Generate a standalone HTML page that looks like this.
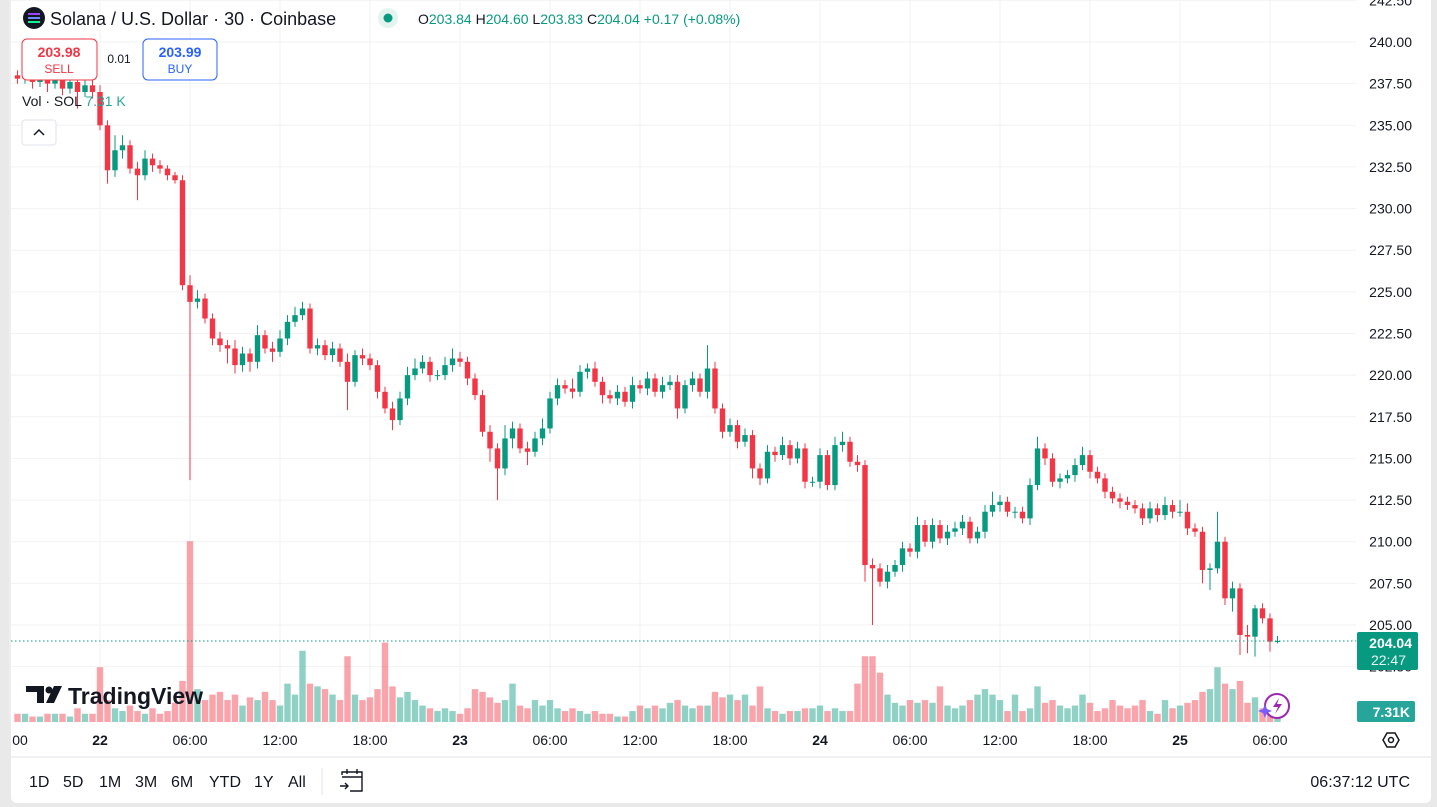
<!DOCTYPE html>
<html><head><meta charset="utf-8"><style>
html,body{margin:0;padding:0;background:#e9e9ea;}
body{width:1437px;height:807px;overflow:hidden;position:relative;font-family:"Liberation Sans",sans-serif;}
#panel{position:absolute;left:11px;top:0;width:1420px;height:803px;background:#fff;border-radius:0 0 6px 6px;}
svg{position:absolute;left:0;top:0;}
.t{font-family:"Liberation Sans",sans-serif;}
</style></head><body>
<div id="panel"></div>
<svg id="chart" width="1437" height="807"></svg>
<script>
const closes=[237.8,238.0,237.6,238.1,237.5,237.9,237.2,237.6,237.0,237.4,237.0,
235.0,232.3,233.5,233.8,232.4,232.0,233.0,232.6,232.4,232.0,231.7,225.4,224.4,224.6,223.4,222.2,221.8,221.6,
220.6,221.3,220.8,222.4,221.6,221.4,222.2,223.2,223.6,224.0,221.6,221.8,221.2,221.6,220.8,219.6,221.2,221.0,220.6,219.0,
218.0,217.3,218.6,220.0,220.4,220.8,220.0,220.0,220.6,221.0,220.8,219.8,218.8,216.6,215.6,214.4,216.2,216.8,215.6,215.4,
216.2,216.8,218.6,219.4,219.2,219.0,220.2,220.4,219.6,218.8,218.6,219.0,218.4,219.4,219.2,219.8,219.0,219.4,219.6,218.0,
219.4,219.8,219.0,220.4,218.0,216.6,217.0,216.0,216.4,214.4,213.8,215.4,215.2,215.8,215.0,215.6,213.6,213.6,215.2,213.4,
215.8,216.0,214.8,214.6,208.6,208.4,207.6,208.2,208.6,209.6,209.4,211.0,210.0,211.0,210.2,210.6,210.8,211.2,210.2,210.6,
211.8,212.2,212.4,211.8,211.8,211.4,213.4,215.6,215.0,213.6,213.8,214.0,214.6,215.2,214.2,213.8,213.0,212.6,212.4,212.2,
212.0,211.4,212.0,211.6,212.2,211.8,211.8,210.8,210.6,208.3,208.4,210.0,206.6,207.2,204.4,204.3,206.0,205.4,204.0,204.04];
const wickUp=[0.3,0.2,0.4,0.3,0.2,0.3,0.4,0.2,0.3,0.3,0.4,
0.4,0.3,0.9,0.6,0.3,0.4,0.5,0.3,0.3,0.2,0.2,0.3,0.6,0.5,0.3,0.3,0.4,0.3,
0.5,0.4,0.3,0.6,0.3,0.4,0.5,0.4,0.5,0.4,0.3,0.4,0.3,0.4,0.3,0.5,0.3,0.4,0.3,0.3,
0.3,0.4,0.4,0.5,0.6,0.4,0.3,0.3,0.5,0.6,0.4,0.3,0.3,0.3,0.4,0.3,0.8,0.4,0.3,0.4,
0.4,0.6,0.4,0.4,0.3,0.6,0.4,0.3,0.4,0.3,0.3,0.4,0.3,0.5,0.3,0.4,0.3,0.5,0.4,0.4,
0.3,0.4,0.3,1.4,0.4,0.3,0.4,0.3,0.4,0.3,0.3,0.4,0.3,0.5,0.3,0.4,0.3,0.3,0.4,0.3,
0.5,0.6,0.3,0.4,0.3,0.4,0.3,0.4,0.3,0.4,0.3,0.5,0.3,0.4,0.3,0.4,0.4,0.4,0.3,0.3,
0.4,0.8,0.4,0.3,0.3,0.3,0.4,0.7,0.3,0.3,0.3,0.3,0.4,0.5,0.3,0.3,0.3,0.3,0.3,0.3,
0.3,0.3,0.4,0.3,0.5,0.3,0.7,0.5,0.3,0.3,0.3,1.8,0.3,0.4,0.3,0.6,0.2,0.3,0.3,0.3];
const wickDn=[0.3,0.3,0.4,0.3,0.5,0.3,0.4,0.3,1.0,0.3,0.4,
0.3,0.8,0.4,0.5,0.3,1.5,0.3,0.4,0.3,0.3,0.2,0.3,10.7,0.4,0.3,0.4,0.4,0.9,
0.5,0.4,0.6,0.4,0.3,0.6,0.3,0.4,0.3,0.3,0.3,0.4,0.3,0.4,0.3,1.7,0.3,0.4,0.3,0.4,
0.3,0.6,0.3,0.4,0.3,0.3,0.4,0.3,0.3,0.4,0.3,0.4,0.3,0.3,0.8,1.9,0.4,0.6,0.3,0.8,
0.3,0.4,0.3,0.4,0.3,0.4,0.3,0.4,0.3,0.5,0.3,0.4,0.3,0.4,0.3,0.4,0.3,0.4,0.3,0.6,
0.3,0.4,0.3,0.4,0.3,0.4,0.3,0.4,0.3,0.6,0.4,0.3,0.4,0.3,0.4,0.3,0.4,0.3,0.4,0.3,
0.3,0.4,0.3,0.4,1.0,3.4,0.3,0.4,0.3,0.4,0.3,0.4,0.3,0.4,0.3,0.4,0.3,0.4,0.3,0.3,
0.4,0.3,0.4,0.3,0.4,0.3,0.4,0.3,0.4,0.3,0.4,0.3,0.4,0.3,0.4,0.3,0.4,0.3,0.4,0.3,
0.3,0.4,0.3,0.4,0.3,0.4,0.3,0.4,0.3,0.8,1.2,0.3,0.4,0.8,1.2,1.0,1.2,0.3,0.6,0.1];
const volumes=[3,3,2,2,3,3,3,2,5,3,3,
20,8,5,4,6,4,3,5,3,4,7,15,66,12,8,10,11,8,
10,6,9,8,11,8,6,14,10,26,14,13,12,10,8,24,10,8,9,12,
29,13,9,11,8,6,5,4,5,4,3,5,12,11,9,7,8,14,6,5,
8,6,8,5,4,5,4,3,4,3,3,2,2,4,6,5,6,5,7,8,
6,5,6,6,11,9,10,8,10,6,13,5,4,3,4,4,5,5,6,4,
5,4,4,14,24,24,18,10,7,6,8,7,8,7,13,6,5,6,8,10,
12,10,8,4,10,4,5,13,7,8,6,5,6,10,7,4,5,8,6,5,
6,8,4,3,8,5,6,7,8,11,12,20,14,12,15,7,9,5,3,1.2];
const priceTicks=[242.5,240,237.5,235,232.5,230,227.5,225,222.5,220,217.5,215,212.5,210,207.5,205,202.5];
const timeTicks=[{i:-1,l:"00"},{i:11,l:"22",b:1},{i:23,l:"06:00"},{i:35,l:"12:00"},{i:47,l:"18:00"},{i:59,l:"23",b:1},{i:71,l:"06:00"},{i:83,l:"12:00"},{i:95,l:"18:00"},{i:107,l:"24",b:1},{i:119,l:"06:00"},{i:131,l:"12:00"},{i:143,l:"18:00"},{i:155,l:"25",b:1},{i:167,l:"06:00"}];
const lastPrice=204.04;

const NS="http://www.w3.org/2000/svg";
const svg=document.getElementById('chart');
const yP=p=>42+(240-p)*16.657;
const xI=i=>17.5+7.5*i;
const volBase=722, volScale=2.74;
function mk(tag,attrs,parent){const e=document.createElementNS(NS,tag);for(const k in attrs)e.setAttribute(k,attrs[k]);(parent||svg).appendChild(e);return e;}
const grid=mk('g',{});


priceTicks.forEach(p=>{mk('line',{x1:11,x2:1356,y1:yP(p),y2:yP(p),stroke:'#f2f2f2','stroke-width':1},grid);});
timeTicks.forEach(t=>{const x=xI(t.i);mk('line',{x1:x,x2:x,y1:0,y2:722,stroke:'#f2f2f2'},grid);});
const vg=mk('g',{});


closes.forEach((c,i)=>{const o=i?closes[i-1]:c+0.2;const up=c>=o;const h=volumes[i]*volScale;
 const r=mk('rect',{x:xI(i)-3.2,y:volBase-h,width:6.4,height:h,fill:up?'rgba(8,153,129,0.45)':'rgba(242,54,69,0.45)'},vg);
 
 });
const cg=mk('g',{});


closes.forEach((c,i)=>{const o=i?closes[i-1]:c+0.2;const up=c>=o;const col=up?'#089981':'#f23645';
 const hi=Math.max(o,c)+wickUp[i],lo=Math.min(o,c)-wickDn[i];const x=xI(i);
 const g=mk('g',{},cg);
 
 
 mk('line',{x1:x,x2:x,y1:yP(hi),y2:yP(lo),stroke:col,'stroke-width':1},g);
 const y1=yP(Math.max(o,c)),y2=yP(Math.min(o,c));
 mk('rect',{x:x-2.7,y:y1,width:5.4,height:Math.max(1,y2-y1),fill:col},g);});
const ly=yP(lastPrice);
const pl=mk('line',{x1:11,x2:1356,y1:ly,y2:ly,stroke:'#089981','stroke-dasharray':'1.5 2.5'});


const pa=mk('g',{});


priceTicks.forEach(p=>{const t=mk('text',{x:1412,y:yP(p)+5,'text-anchor':'end','font-size':'14',fill:'#131722',class:'t'},pa);t.textContent=p.toFixed(2);
 
 });
const tg=mk('g',{});


timeTicks.forEach(tk=>{const t=mk('text',{x:xI(tk.i),y:745,'text-anchor':'middle','font-size':'14','font-weight':tk.b?'bold':'normal',fill:'#131722',class:'t'},tg);t.textContent=tk.l;
 if(tk.i<0){t.setAttribute('x',20);}
 
 });
</script>
<svg width="1437" height="807" style="pointer-events:none">
 <line x1="11" y1="757" x2="1431" y2="757" stroke="#e0e3eb"/>
 <rect x="1357" y="632" width="61" height="38" rx="2" fill="#089981"/>
 <text x="1412" y="648" text-anchor="end" font-size="14" font-weight="bold" fill="#fff" class="t">204.04</text>
 <text x="1406" y="665" text-anchor="end" font-size="14" fill="#e6f5f2" class="t">22:47</text>
 <rect x="1357" y="701" width="58" height="21" rx="2" fill="#26a69a"/>
 <text x="1410" y="717" text-anchor="end" font-size="14" font-weight="bold" fill="#fff" class="t">7.31K</text>
 <g><polygon points="1383,740 1387,733 1395,733 1399,740 1395,747 1387,747" fill="none" stroke="#131722" stroke-width="1.5"/><circle cx="1391" cy="740" r="2.5" fill="none" stroke="#131722" stroke-width="1.5"/></g>
 <g><circle cx="34" cy="18" r="11" fill="#131722"/><rect x="28" y="13" width="12" height="2" fill="#9945ff"/><rect x="28" y="17" width="12" height="2" fill="#6a8cff"/><rect x="28" y="21" width="12" height="2" fill="#14f195"/></g>
 <text x="50" y="25" font-size="18" fill="#131722" class="t">Solana / U.S. Dollar · 30 · Coinbase</text>
 <circle cx="388" cy="18" r="10" fill="#e3f3ef"/><circle cx="388" cy="18" r="4.5" fill="#089981"/>
 <g font-size="14" class="t">
  <text x="418" y="24" fill="#131722">O<tspan fill="#089981">203.84</tspan> H<tspan fill="#089981">204.60</tspan> L<tspan fill="#089981">203.83</tspan> C<tspan fill="#089981">204.04 +0.17 (+0.08%)</tspan></text>
 </g>
 <g><rect x="22" y="39" width="75" height="41" rx="5" fill="#fff" stroke="#f23645"/><text x="59" y="57" text-anchor="middle" font-size="14" font-weight="bold" fill="#f23645" class="t">203.98</text><text x="59" y="73" text-anchor="middle" font-size="12" fill="#f23645" class="t">SELL</text></g>
 <text x="119" y="63" text-anchor="middle" font-size="12" fill="#131722" class="t">0.01</text>
 <g><rect x="143" y="39" width="74" height="41" rx="5" fill="#fff" stroke="#2962ff"/><text x="180" y="57" text-anchor="middle" font-size="14" font-weight="bold" fill="#2962ff" class="t">203.99</text><text x="180" y="73" text-anchor="middle" font-size="12" fill="#2962ff" class="t">BUY</text></g>
 <text x="22" y="106" font-size="14" fill="#131722" class="t">Vol · SOL <tspan fill="#26a69a">7.31 K</tspan></text>
 <g><rect x="22" y="120" width="34" height="25" rx="3" fill="#fff" stroke="#e0e3eb"/><path d="M34 135 L39 130 L44 135" fill="none" stroke="#131722" stroke-width="1.5"/></g>
 <g><path d="M26 686 H44 V703 H37 V692 H26 Z" fill="#131722"/><circle cx="49" cy="690" r="3.5" fill="#131722"/><path d="M54 686 H62 L54 703 H46 Z" fill="#131722"/><text x="68" y="704" font-size="23" font-weight="bold" fill="#131722" class="t">TradingView</text></g>
 <g><circle cx="1277" cy="706" r="12" fill="#fff" stroke="#9c27b0" stroke-width="2"/><path d="M1279 698 L1273 707 H1278 L1275 714 L1282 704 H1277 Z" fill="#9c27b0"/><path d="M1263 709 L1265 704 L1267 709 L1272 711 L1267 713 L1265 718 L1263 713 L1258 711 Z" fill="#7b5cff"/></g>
 <g font-size="16" fill="#131722" class="t">
  <text x="29" y="787">1D</text><text x="63" y="787">5D</text><text x="99" y="787">1M</text><text x="135" y="787">3M</text><text x="171" y="787">6M</text><text x="209" y="787">YTD</text><text x="254" y="787">1Y</text><text x="288" y="787">All</text>
 </g>
 <line x1="322" y1="768" x2="322" y2="795" stroke="#e0e3eb"/>
 <g fill="none" stroke="#131722" stroke-width="1.4"><path d="M342 775 V772 H362 V791 H350"/><path d="M342 777 H362"/><path d="M347 769 V774 M357 769 V774"/><path d="M340 786 H348 M345 783 L348 786 L345 789"/></g>
 <text x="1410" y="787" text-anchor="end" font-size="16" fill="#131722" class="t">06:37:12 UTC</text>
</svg>
</body></html>
